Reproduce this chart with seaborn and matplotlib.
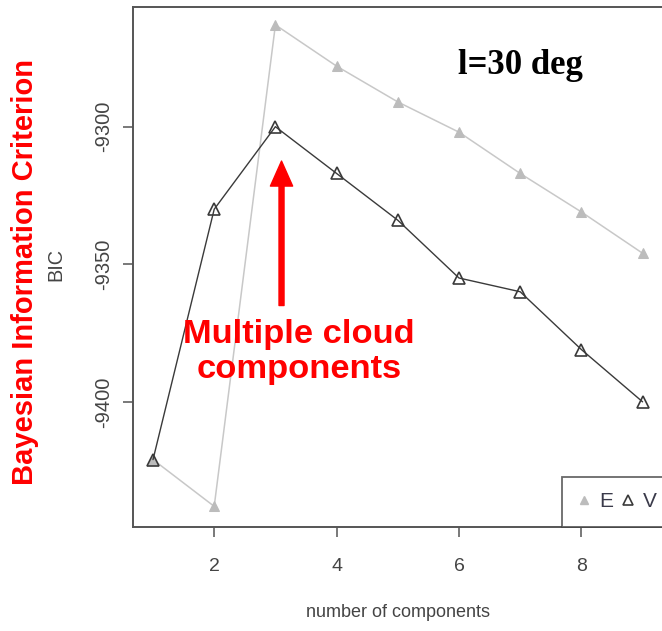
import matplotlib
matplotlib.use("Agg")
import matplotlib.pyplot as plt
from matplotlib.lines import Line2D
import seaborn as sns
import pandas as pd

# BIC by number of mixture components, for the two model variants
components = [1, 2, 3, 4, 5, 6, 7, 8, 9]
bic_E = [-9421, -9438, -9263, -9278, -9291, -9302, -9317, -9331, -9346]
bic_V = [-9421, -9330, -9300, -9317, -9334, -9355, -9360, -9381, -9400]
x_ticks = [2, 4, 6, 8]
y_ticks = [-9400, -9350, -9300]

sns.set_theme(style="white")
plt.rcParams["font.family"] = ["Liberation Sans", "DejaVu Sans"]

W, H = 662, 631
fig = plt.figure(figsize=(W / 100, H / 100), dpi=100)
# axes box: left 133px, top 7px, bottom 527px, right edge just past the figure
ax = fig.add_axes([133 / W, (H - 527) / H, (664 - 133) / W, (527 - 7) / H])

df = pd.DataFrame({"k": components, "E": bic_E, "V": bic_V})

light = "#c8c8c8"
dark = "#3a3a3a"
sns.lineplot(data=df, x="k", y="E", ax=ax, color=light, lw=1.1,
             marker="^", markersize=7, markerfacecolor="#bcbcbc",
             markeredgecolor="#bcbcbc", zorder=2)
sns.lineplot(data=df, x="k", y="V", ax=ax, color=dark, lw=1.0,
             marker="^", markersize=9, markerfacecolor="none",
             markeredgecolor=dark, markeredgewidth=1.2, zorder=3)

ax.set_xlim(0.673, 9.35)
ax.set_ylim(-9445.5, -9256.5)
ax.set_xticks(x_ticks)
ax.set_yticks(y_ticks)
ax.set_xticklabels([str(v) for v in x_ticks])
ax.set_yticklabels([str(v) for v in y_ticks], rotation=90, va="center")

for s in ax.spines.values():
    s.set_color("#555555")
    s.set_linewidth(1.4)
ax.tick_params(axis="both", which="major", direction="out", length=7.5,
               width=1.1, color="#555555", labelcolor="#444444",
               bottom=True, left=True)
ax.tick_params(axis="x", pad=15, labelsize=14)
ax.tick_params(axis="y", pad=6.5, labelsize=14.5)

ax.set_xlabel("number of components", fontsize=13, color="#444444")
ax.set_ylabel("BIC", fontsize=14.3, color="#444444")
ax.xaxis.set_label_coords(0.499, -0.148)
ax.yaxis.set_label_coords(-0.128, 0.504)

handles = [
    Line2D([], [], ls="none", marker="^", markersize=6, markerfacecolor="#bcbcbc",
           markeredgecolor="#bcbcbc"),
    Line2D([], [], ls="none", marker="^", markersize=7, markerfacecolor="none",
           markeredgecolor=dark, markeredgewidth=1.2),
]
leg = ax.legend(handles, ["E", "V"], loc="lower right", ncol=2, frameon=True,
                fancybox=False, bbox_to_anchor=(1.016, 0.0), borderaxespad=0,
                handlelength=0.6, handletextpad=0.4, columnspacing=0.45,
                fontsize=15, borderpad=0.75)
leg.get_frame().set_edgecolor("#444444")
leg.get_frame().set_linewidth(1.3)
for t in leg.get_texts():
    t.set_color("#3a3a4a")

# annotations
fig.text(25 / W, 1 - 272 / H, "Bayesian Information Criterion", rotation=90,
         color="red", fontsize=21, fontweight="bold", ha="center", va="center")
fig.text(520 / W, 1 - 65 / H, "l=30 deg", fontsize=25, fontweight="bold",
         family=["Liberation Serif"], color="black", ha="center", va="center")
fig.text(299 / W, 1 - 352 / H, "Multiple cloud\ncomponents", fontsize=24.8,
         fontweight="bold", color="red", ha="center", va="center",
         linespacing=1.2)

ax.annotate("", xy=(3.1, -9312.5), xytext=(3.1, -9365),
            arrowprops=dict(facecolor="red", edgecolor="red", width=3.6,
                            headwidth=16, headlength=18, shrink=0))

fig.savefig("out.png", dpi=100)
